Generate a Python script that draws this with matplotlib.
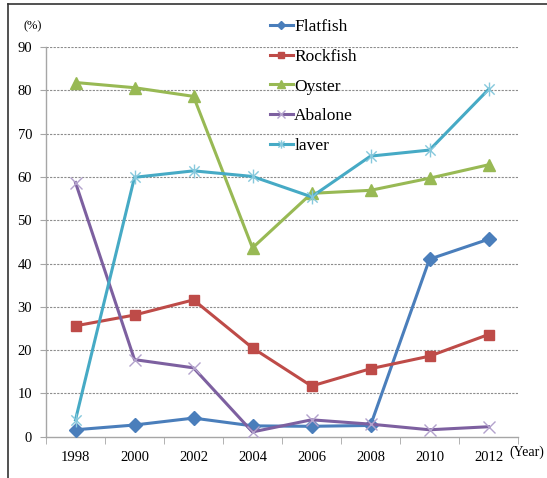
import matplotlib
matplotlib.use("Agg")
import matplotlib.pyplot as plt
import numpy as np
from matplotlib.path import Path
from matplotlib.lines import Line2D

plt.rcParams["font.family"] = ["Liberation Serif", "DejaVu Serif"]

years = ["1998", "2000", "2002", "2004", "2006", "2008", "2010", "2012"]
flatfish = [1.6, 2.7, 4.3, 2.5, 2.4, 2.6, 41.0, 45.6]
rockfish = [25.6, 28.1, 31.6, 20.5, 11.7, 15.7, 18.6, 23.6]
oyster = [81.8, 80.6, 78.6, 43.6, 56.2, 56.9, 59.7, 62.8]
abalone = [58.7, 17.8, 15.9, 1.1, 3.9, 2.9, 1.6, 2.3]
laver = [3.9, 59.9, 61.4, 60.1, 55.4, 64.8, 66.2, 80.2]

# Excel-style "star" marker: an x with a vertical stroke through it
star = Path(
    [(-1, -1), (1, 1), (-1, 1), (1, -1), (0, -1.35), (0, 1.35)],
    [Path.MOVETO, Path.LINETO, Path.MOVETO, Path.LINETO, Path.MOVETO, Path.LINETO],
)

series = [
    ("Flatfish", flatfish, dict(color="#4a7ebb", marker="D", ms=7, mfc="#4a7ebb", mec="#4a7ebb")),
    ("Rockfish", rockfish, dict(color="#be4b48", marker="s", ms=7, mfc="#be4b48", mec="#be4b48")),
    ("Oyster", oyster, dict(color="#98b954", marker="^", ms=9, mfc="#98b954", mec="#98b954")),
    ("Abalone", abalone, dict(color="#7d60a0", marker="x", ms=9, mec="#b3a2cc", mew=1.0)),
    ("laver", laver, dict(color="#46aac5", marker=star, ms=10, mec="#86c8dc", mew=1.0)),
]

fig = plt.figure(figsize=(5.47, 4.78), dpi=100)
ax = fig.add_axes([46 / 547, 41.3 / 478, 472 / 547, 389.7 / 478])

x = np.arange(len(years))
handles = []
for name, vals, kw in series:
    ax.plot(x, vals, lw=2.2, label=name, zorder=3, **kw)
    h = Line2D([], [], color=kw["color"], lw=2.2, marker=kw["marker"],
               ms=kw["ms"] * 0.6, mfc=kw.get("mfc", "none"), mec=kw["mec"],
               mew=kw.get("mew", 1.0))
    handles.append(h)

ax.set_xlim(-0.5, len(years) - 0.5)
ax.set_ylim(0, 90)
ax.set_yticks(np.arange(0, 91, 10))
ax.set_xticks(x)
ax.set_xticklabels(years)
ax.set_xticks(np.arange(-0.5, len(years), 1.0), minor=True)
ax.tick_params(axis="x", which="major", length=0, pad=10, labelsize=10.5)
ax.tick_params(axis="x", which="minor", length=5, color="#a6a6a6", direction="out")
ax.tick_params(axis="y", length=4, color="#a6a6a6", pad=6, labelsize=10.5)

for yv in range(10, 91, 10):
    ax.axhline(yv, color="#8c8c8c", lw=0.8, ls=(0, (2, 1.2)), zorder=1)

for s in ("top", "right"):
    ax.spines[s].set_visible(False)
for s in ("left", "bottom"):
    ax.spines[s].set_color("#a6a6a6")
    ax.spines[s].set_linewidth(1.0)

fig.text(23 / 547, 1 - 26 / 478, "(%)", fontsize=9, va="center", ha="left")
fig.text(509 / 547, 1 - 452 / 478, "(Year)", fontsize=10, va="center", ha="left")

fig.legend(handles, [s[0] for s in series], loc="upper left",
           bbox_to_anchor=(270 / 547, 1 - 19 / 478), frameon=False,
           fontsize=12.5, handlelength=1.3, handletextpad=0.1,
           labelspacing=0.78, borderpad=0, borderaxespad=0)

# outer frame (left and top edges visible in the source)
fig.add_artist(Line2D([8 / 547, 8 / 547], [0.0, 1 - 4 / 478], color="#333333", lw=1.2,
                      transform=fig.transFigure))
fig.add_artist(Line2D([8 / 547, 1.0], [1 - 4 / 478, 1 - 4 / 478], color="#333333", lw=1.2,
                      transform=fig.transFigure))

fig.savefig("out.png", dpi=100)
